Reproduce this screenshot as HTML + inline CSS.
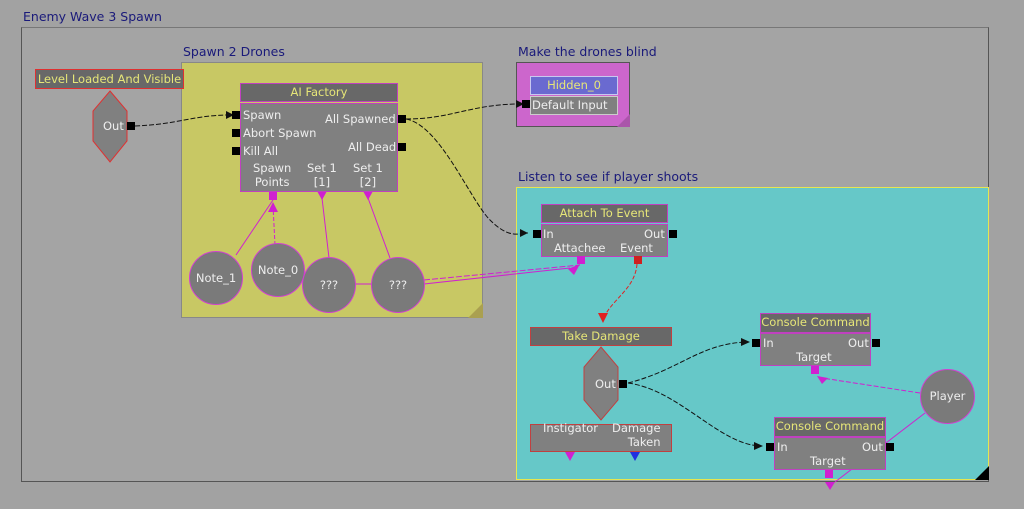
<!DOCTYPE html>
<html><head><meta charset="utf-8"><style>
body{margin:0;width:1024px;height:509px;background:#a2a2a2;position:relative;overflow:hidden;font-family:"DejaVu Sans","Liberation Sans",sans-serif;font-size:11.5px;color:#eee}
.a{position:absolute;box-sizing:border-box}
.t{color:#1a1a7a;font-size:12.5px;white-space:nowrap}
.hd{background:#686868;color:#e6e678;text-align:center;line-height:16px;border:1px solid #c040c0;white-space:nowrap}
.bd{background:#808080;border:1px solid #c040c0;white-space:nowrap}
.p{position:absolute;width:8px;height:8px;background:#000}
.c{position:absolute;border-radius:50%;background:#7a7a7a;border:1px solid #d040d0;box-sizing:border-box;text-align:center;color:#eee}
</style></head><body>
<div class="a t" style="left:23px;top:9px">Enemy Wave 3 Spawn</div>
<div class="a" style="left:21px;top:27px;width:968px;height:455px;border:1px solid #555;border-top-color:#777;background:#a4a4a4"></div>
<div class="a t" style="left:183px;top:44px">Spawn 2 Drones</div>
<div class="a" style="left:181px;top:62px;width:302px;height:256px;background:#c8c864;border:1px solid #888"></div>
<div class="a t" style="left:518px;top:44px">Make the drones blind</div>
<div class="a" style="left:516px;top:62px;width:114px;height:65px;background:#cc66cc;border:1px solid #555"></div>
<div class="a t" style="left:518px;top:169px">Listen to see if player shoots</div>
<div class="a" style="left:516px;top:187px;width:473px;height:293px;background:#66c8c8;border:1px solid #e6e650"></div>
<svg class="a" style="left:0;top:0" width="1024" height="509">
<polygon points="989,466 989,480 975,480" fill="#000"/>
<polygon points="483,303 483,318 468,318" fill="#aaa050"/>
<polygon points="630,114 630,127 617,127" fill="#aa55aa"/>
<polygon points="110,91 127,111 127,141 110,162 93,141 93,111" fill="#808080" stroke="#e03030"/>
<polygon points="601,347 618,367 618,400 601,420 584,400 584,367" fill="#808080" stroke="#c04040"/>
<g fill="none" stroke="#111" stroke-dasharray="5,2">
<path d="M135,126 C180,124 190,116 226,115"/>
<path d="M406,119 C450,119 470,105 516,104"/>
<path d="M406,119 C440,125 470,200 490,220 S520,233 528,233"/>
<path d="M628,383 C680,370 700,343 748,342"/>
<path d="M628,383 C680,390 720,446 762,446"/>
</g>
<g fill="#111"><polygon points="226,111 234,115 226,119"/><polygon points="516,100 524,104 516,108"/><polygon points="520,229 528,233 520,237"/><polygon points="741,338 750,342 741,346"/><polygon points="754,442 763,446 754,450"/></g>
<g fill="none" stroke="#d020d0">
<path d="M236,255 L273,200"/><path d="M275,245 L273,205" stroke-dasharray="4,2"/>
<path d="M329,258 L322,198"/><path d="M390,258 L368,198"/>
<path d="M355,284 L372,284"/>
<path d="M424,280 L580,265" stroke-dasharray="6,2"/><path d="M424,284 L570,268"/>
<path d="M920,393 L822,378" stroke-dasharray="5,2"/>
<path d="M925,413 L835,482"/>
</g>
<path d="M637,264 C635,290 610,300 603,320" fill="none" stroke="#e02020" stroke-dasharray="4,2"/>
<polygon points="598,313 608,313 603,323" fill="#e02020"/>
<g fill="#d020d0"><polygon points="268,212 278,212 273,202"/><polygon points="317,191 327,191 322,200"/><polygon points="363,191 373,191 368,200"/><polygon points="568,269 580,264 574,275"/><polygon points="565,452 575,452 570,461"/><polygon points="817,376 828,378 822,384"/><polygon points="825,482 835,482 830,490"/></g>
<polygon points="630,452 640,452 635,461" fill="#2030e0"/>
</svg>
<div class="a hd" style="left:35px;top:69px;width:149px;height:20px;border-color:#e03030;line-height:18px">Level Loaded And Visible</div>
<div class="a" style="left:103px;top:119px">Out</div><div class="p" style="left:127px;top:122px"></div>

<div class="a hd" style="left:240px;top:83px;width:158px;height:19px">AI Factory</div>
<div class="a bd" style="left:240px;top:103px;width:158px;height:89px"></div>
<div class="a" style="left:243px;top:108px">Spawn</div><div class="a" style="left:243px;top:126px">Abort Spawn</div><div class="a" style="left:243px;top:144px">Kill All</div>
<div class="a" style="left:325px;top:112px">All Spawned</div><div class="a" style="left:348px;top:140px">All Dead</div>
<div class="a" style="left:253px;top:161px;text-align:center;line-height:14px">Spawn<br>Points</div>
<div class="a" style="left:307px;top:161px;text-align:center;line-height:14px">Set 1<br>[1]</div>
<div class="a" style="left:353px;top:161px;text-align:center;line-height:14px">Set 1<br>[2]</div>
<div class="p" style="left:232px;top:111px"></div><div class="p" style="left:232px;top:129px"></div><div class="p" style="left:232px;top:147px"></div>
<div class="p" style="left:398px;top:115px"></div><div class="p" style="left:398px;top:143px"></div>
<div class="p" style="left:269px;top:192px;background:#d020d0"></div>

<div class="c" style="left:189px;top:251px;width:54px;height:54px;line-height:52px">Note_1</div>
<div class="c" style="left:251px;top:243px;width:54px;height:54px;line-height:52px">Note_0</div>
<div class="c" style="left:302px;top:257px;width:54px;height:56px;line-height:54px">???</div>
<div class="c" style="left:371px;top:257px;width:54px;height:56px;line-height:54px">???</div>

<div class="a hd" style="left:530px;top:76px;width:88px;height:19px;background:#6a6ad0;border-color:#c8c8f0">Hidden_0</div>
<div class="a bd" style="left:530px;top:96px;width:88px;height:19px;border-color:#ccc;padding-left:1px;line-height:16px">Default Input</div>
<div class="p" style="left:522px;top:100px"></div>

<div class="a hd" style="left:541px;top:204px;width:127px;height:19px">Attach To Event</div>
<div class="a bd" style="left:541px;top:224px;width:127px;height:33px"></div>
<div class="a" style="left:543px;top:227px">In</div><div class="a" style="left:644px;top:227px">Out</div>
<div class="a" style="left:554px;top:241px">Attachee</div><div class="a" style="left:620px;top:241px">Event</div>
<div class="p" style="left:533px;top:230px"></div><div class="p" style="left:669px;top:230px"></div>
<div class="p" style="left:577px;top:256px;background:#d020d0"></div><div class="p" style="left:634px;top:256px;background:#d02020"></div>

<div class="a hd" style="left:530px;top:327px;width:142px;height:19px;border-color:#c04040">Take Damage</div>
<div class="a" style="left:595px;top:377px">Out</div><div class="p" style="left:619px;top:380px"></div>
<div class="a bd" style="left:530px;top:424px;width:142px;height:28px;border-color:#c04040"></div>
<div class="a" style="left:543px;top:421px">Instigator</div><div class="a" style="left:612px;top:421px;text-align:right;line-height:14px">Damage<br>Taken</div>

<div class="a hd" style="left:760px;top:313px;width:111px;height:20px">Console Command</div>
<div class="a bd" style="left:760px;top:333px;width:111px;height:33px"></div>
<div class="a" style="left:763px;top:336px">In</div><div class="a" style="left:848px;top:336px">Out</div><div class="a" style="left:796px;top:350px">Target</div>
<div class="p" style="left:752px;top:339px"></div><div class="p" style="left:872px;top:339px"></div>
<div class="p" style="left:811px;top:366px;background:#d020d0"></div>

<div class="a hd" style="left:774px;top:417px;width:112px;height:20px">Console Command</div>
<div class="a bd" style="left:774px;top:437px;width:112px;height:33px"></div>
<div class="a" style="left:777px;top:440px">In</div><div class="a" style="left:862px;top:440px">Out</div><div class="a" style="left:810px;top:454px">Target</div>
<div class="p" style="left:766px;top:443px"></div><div class="p" style="left:886px;top:443px"></div>
<div class="p" style="left:825px;top:470px;background:#d020d0"></div>

<div class="c" style="left:920px;top:369px;width:55px;height:55px;line-height:53px">Player</div>
</body></html>
